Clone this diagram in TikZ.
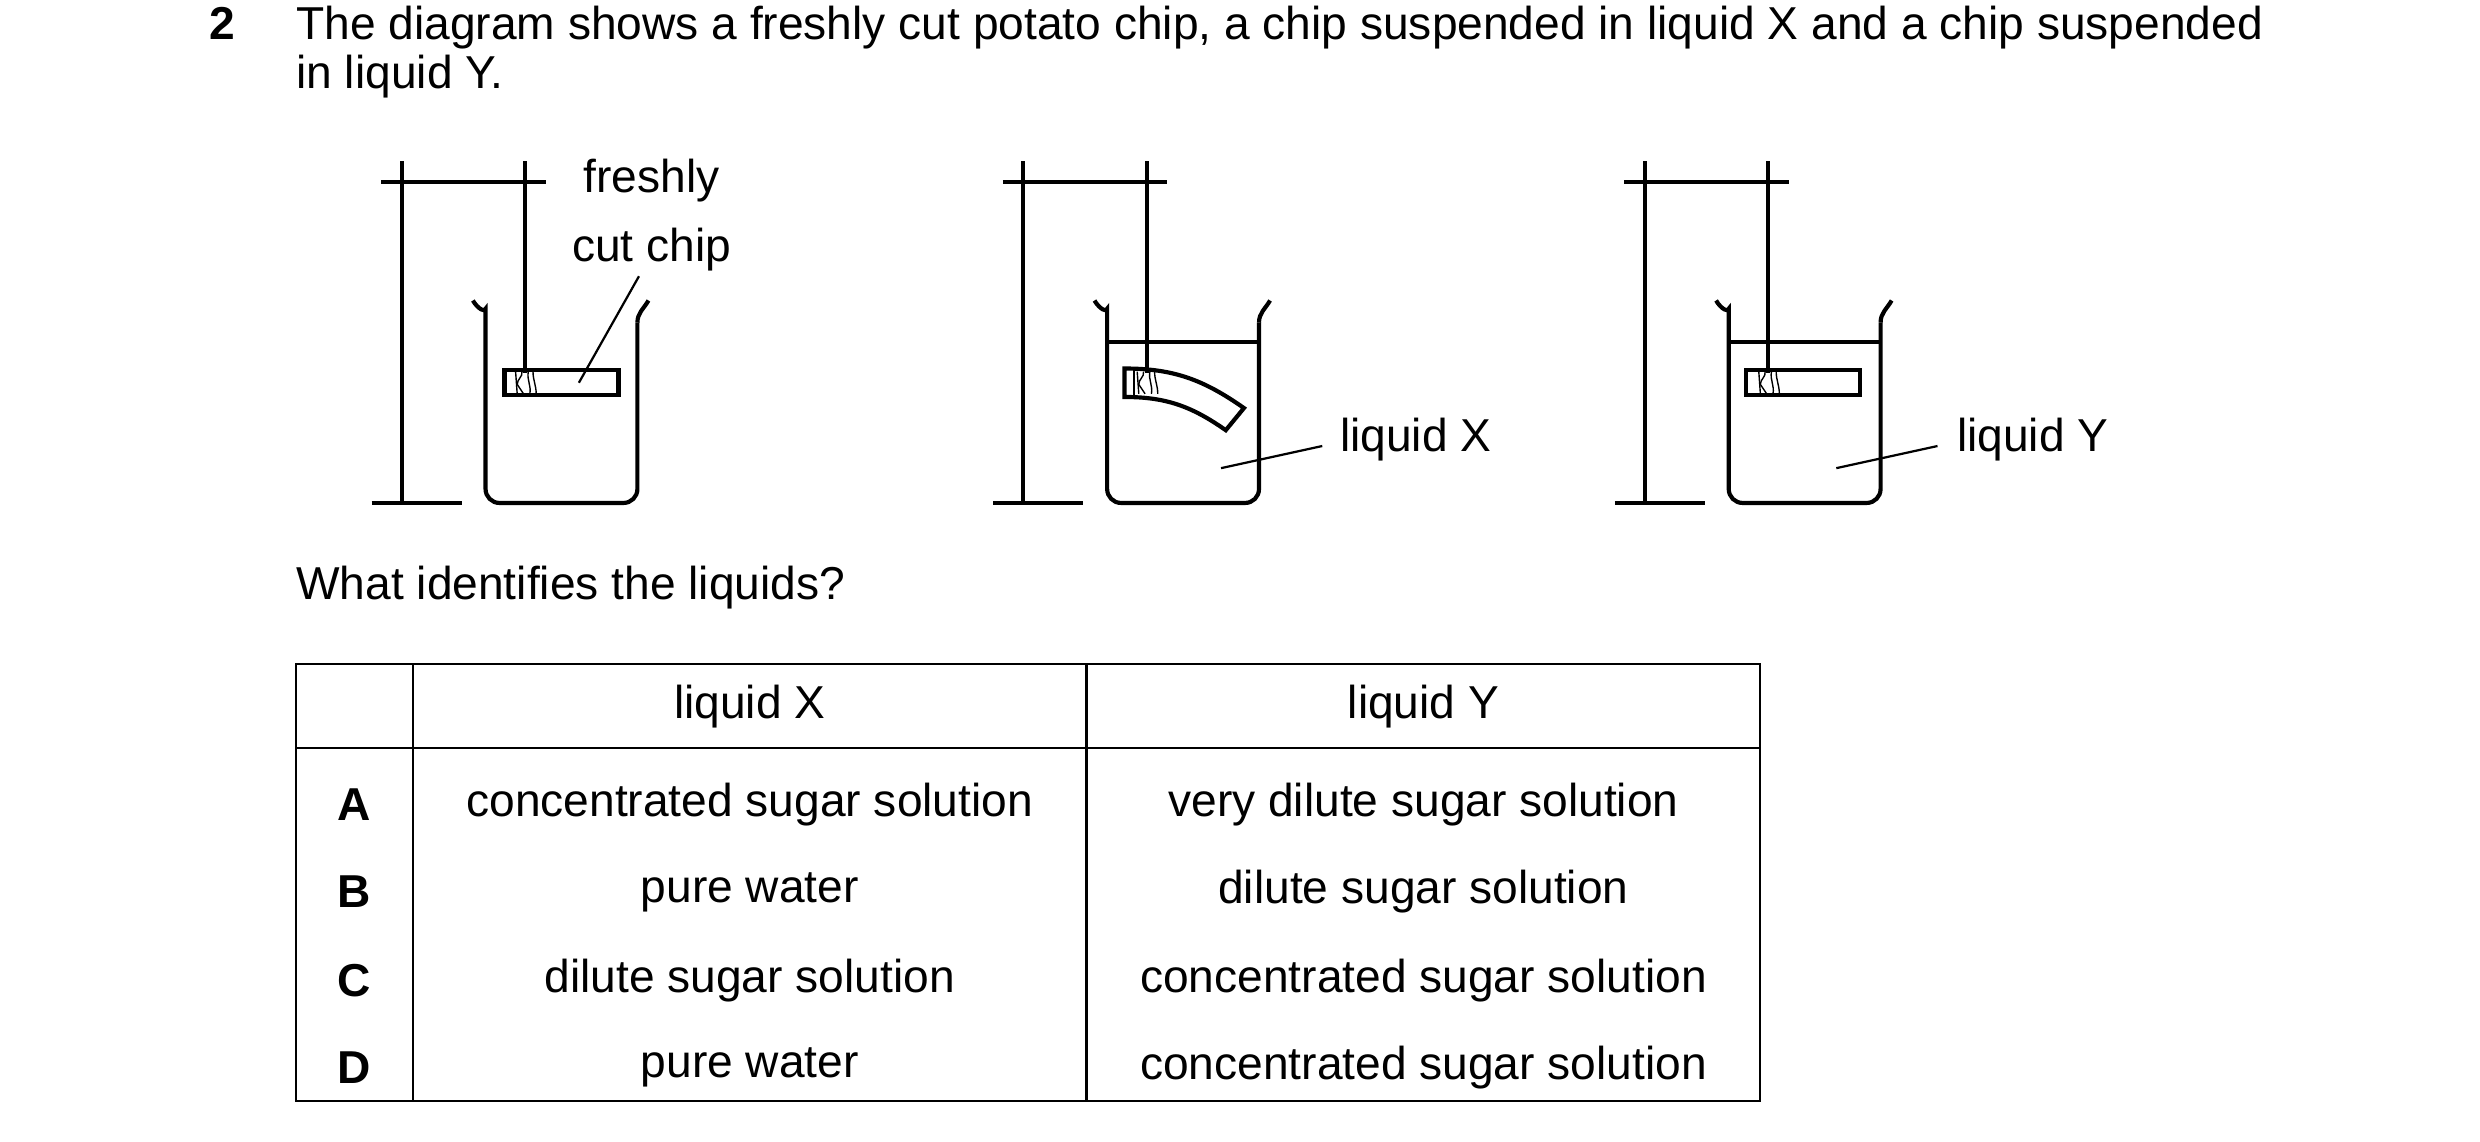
\documentclass[tikz,border=0pt]{standalone}
\usepackage{fontspec}
\setmainfont{Liberation Sans}
\usetikzlibrary{positioning}
\tikzset{
  app/.style={line width=1.5pt, black},
  lead/.style={line width=0.8pt},
  txt/.style={font=\fontsize{16.6}{19}\selectfont, inner sep=0pt},
}
% stand and beaker, shifted by #1
\newcommand{\drawStand}[1]{
  \begin{scope}[shift={(#1,0)}]
    \draw[app] (254,102) -- (254,318);
    \draw[app] (235,318) -- (292,318);
    \draw[app] (241,115) -- (345,115);
    \draw[app] (332,102) -- (332,236);
    \draw[app, rounded corners=5] (299,190) to[out=-60,in=90] (307,204) -- (307,318) -- (403,318) -- (403,204);
    \draw[app] (403,204) to[out=90,in=-120] (410,190);
  \end{scope}
}
\newcommand{\drawCut}[1]{
  \begin{scope}[shift={(#1,0)}]
    \draw[line width=0.5pt] (326,235) -- (327,249);
    \draw[line width=0.5pt] (330,235) to[out=-80,in=90] (327,243) -- (331,249);
    \draw[line width=0.5pt] (334,235) to[out=-100,in=80] (335,249);
    \draw[line width=0.5pt] (337,235) to[out=-90,in=90] (339,249);
  \end{scope}
}
\begin{document}
\begin{tikzpicture}[x=0.02cm, y=-0.02cm]
  \useasboundingbox (0,0) rectangle (1568,722);
  % question
  \node[txt, anchor=base west, font=\fontsize{16.6}{19}\selectfont\bfseries] (num) at (132,25) {2};
  \node[txt, anchor=base west] (q1) at (187,25) {The diagram shows a freshly cut potato chip, a chip suspended in liquid X and a chip suspended};
  \node[txt, anchor=base west] (q2) at (187,56) {in liquid Y.};
  % apparatus
  \drawStand{0}
  \drawStand{393}
  \drawStand{786}
  % liquid surfaces
  \draw[app] (700,216) -- (795,216);
  \draw[app] (1093,216) -- (1188,216);
  % chips
  \draw[app] (319,234) rectangle (391,250);
  \drawCut{0}
  \draw[app] (711,233) to[out=0,in=145] (786.5,258) -- (775,272) to[out=145,in=0] (711,251) -- cycle;
  \draw[line width=1pt] (717,233) -- (717,251);
  \drawCut{393}
  \draw[app] (1104,234) rectangle (1176,250);
  \drawCut{786}
  % labels
  \node[txt] (fresh) at (412,114) {freshly};
  \node[txt, below=9pt of fresh.south] (cut) {cut chip};
  \coordinate (chipA) at (366,242);
  \draw[lead] (cut.south) ++(-8,3) coordinate (cutend) -- (chipA);
  \node[txt, anchor=west] (liqX) at (847,278) {liquid X};
  \coordinate (inX) at (772,296);
  \draw[lead] (liqX.west) ++(-11,4) -- (inX);
  \node[txt, anchor=west] (liqY) at (1237,278) {liquid Y};
  \coordinate (inY) at (1161,296);
  \draw[lead] (liqY.west) ++(-12,4) -- (inY);
  \node[txt, anchor=base west] (ask) at (187,379) {What identifies the liquids?};
  % table
  \draw[line width=0.8pt] (187,420) rectangle (1113,696);
  \draw[line width=0.8pt] (187,473) -- (1113,473);
  \draw[line width=0.8pt] (261,420) -- (261,696);
  \draw[line width=0.8pt] (687,420) -- (687,696);
  \node[txt] (hX) at (474,447) {liquid X};
  \node[txt] (hY) at (900,447) {liquid Y};
  \foreach \k/\yy/\a/\b in {A/509/concentrated sugar solution/very dilute sugar solution,
                            B/564/pure water/dilute sugar solution,
                            C/620/dilute sugar solution/concentrated sugar solution,
                            D/675/pure water/concentrated sugar solution}{
    \node[txt, font=\fontsize{16.6}{19}\selectfont\bfseries] (r\k) at (224,\yy) {\k};
    \node[txt] (x\k) at (474,\yy) {\a};
    \node[txt] (y\k) at (900,\yy) {\b};
  }
\end{tikzpicture}
\end{document}
